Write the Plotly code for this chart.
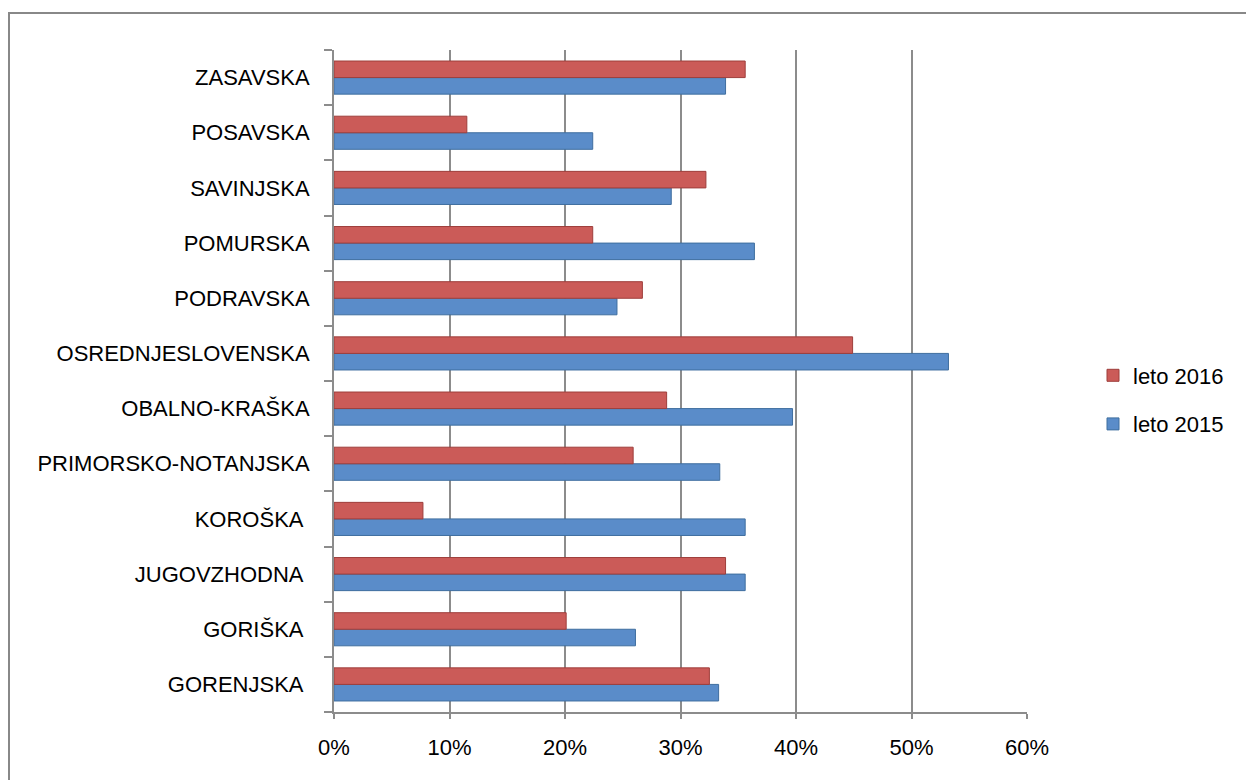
import plotly.graph_objects as go

categories = ["GORENJSKA\u00a0", "GORIŠKA\u00a0", "JUGOVZHODNA\u00a0", "KOROŠKA\u00a0",
              "PRIMORSKO-NOTANJSKA", "OBALNO-KRAŠKA", "OSREDNJESLOVENSKA",
              "PODRAVSKA", "POMURSKA", "SAVINJSKA", "POSAVSKA", "ZASAVSKA"]
leto_2015 = [0.333, 0.261, 0.356, 0.356, 0.334, 0.397, 0.532, 0.245, 0.364, 0.292, 0.224, 0.339]
leto_2016 = [0.325, 0.201, 0.339, 0.077, 0.259, 0.288, 0.449, 0.267, 0.224, 0.322, 0.115, 0.356]
x_ticks = [0, 0.1, 0.2, 0.3, 0.4, 0.5, 0.6]

blue = "#5A8CC9"
red = "#CB5B58"
grid = "#8C8C8C"

fig = go.Figure()
fig.add_trace(go.Bar(y=categories, x=leto_2015, orientation="h", name="leto 2015",
                     legendgroup="b", legendrank=2,
                     marker=dict(color=blue, line=dict(color="#3F6E9F", width=1))))
fig.add_trace(go.Bar(y=categories, x=leto_2016, orientation="h", name="leto 2016",
                     legendgroup="a", legendrank=1,
                     marker=dict(color=red, line=dict(color="#9E3E3B", width=1))))

W, H = 1246, 780
L, R, T, B = 334, 219, 50, 68
pw, ph = W - L - R, H - T - B

def px_to_paper_x(px):
    return (px - L) / pw

def px_to_paper_y(py):
    return (H - B - py) / ph

fig.update_layout(
    width=W, height=H,
    margin=dict(l=L, r=R, t=T, b=B),
    barmode="group", bargap=0.4, bargroupgap=0,
    plot_bgcolor="white", paper_bgcolor="white",
    font=dict(family="Liberation Sans, Arial, sans-serif", size=22, color="#000000"),
    showlegend=True,
    legend=dict(traceorder="grouped", x=px_to_paper_x(1093), y=px_to_paper_y(400),
                xanchor="left", yanchor="middle", font=dict(size=22),
                itemwidth=30, tracegroupgap=17, bgcolor="rgba(0,0,0,0)"),
    xaxis=dict(range=[0, 0.6], tickvals=x_ticks, tickformat=".0%",
               showgrid=True, gridcolor=grid, gridwidth=2,
               showline=True, linecolor=grid, linewidth=2,
               ticks="outside", ticklen=5, tickcolor=grid, tickwidth=2,
               ticklabelstandoff=10,
               zeroline=False, tickfont=dict(size=22)),
    yaxis=dict(showline=True, linecolor=grid, linewidth=2,
               ticks="outside", ticklen=8, tickcolor=grid, tickwidth=2,
               tickson="boundaries", showgrid=False,
               ticklabelstandoff=18, tickfont=dict(size=22)),
    shapes=[dict(type="rect", xref="paper", yref="paper",
                 x0=px_to_paper_x(9), x1=px_to_paper_x(1270),
                 y0=px_to_paper_y(800), y1=px_to_paper_y(13),
                 line=dict(color="#888888", width=2), fillcolor="rgba(0,0,0,0)",
                 layer="below")],
)

fig.write_html("out.html", config={"displayModeBar": False},
               post_script="document.body.style.margin='0';document.body.style.overflow='hidden';")
